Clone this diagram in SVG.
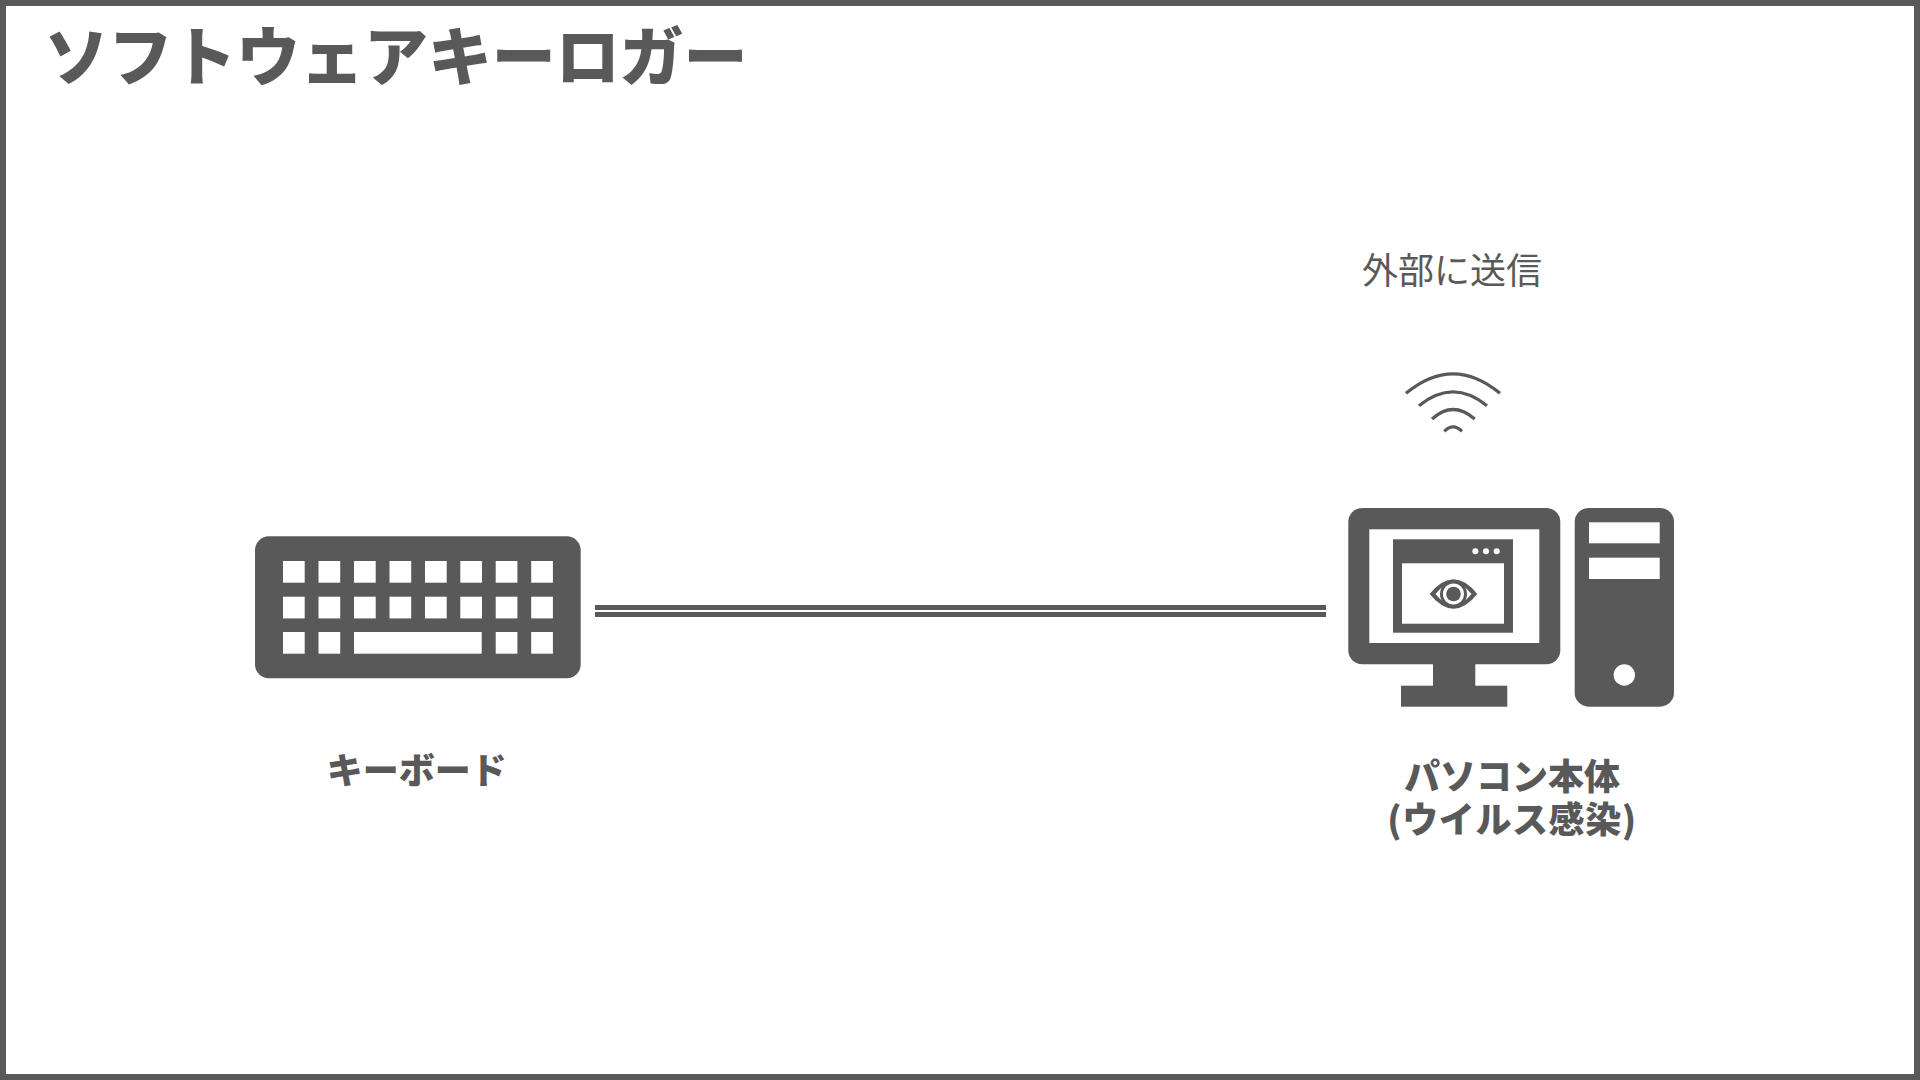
<svg xmlns="http://www.w3.org/2000/svg" width="1920" height="1080" viewBox="0 0 1920 1080">
<style>
text{fill:#595959;font-family:"Noto Sans CJK JP","Noto Sans",sans-serif;text-anchor:middle}
.b{font-weight:900;font-size:36px}
.f{fill:#595959}
.w{fill:#fff}
.wifi{fill:none;stroke:#595959;stroke-width:3.2}
</style>
<rect width="1920" height="1080" fill="#fff"/>
<rect x="3" y="3" width="1914" height="1074" fill="none" stroke="#595959" stroke-width="6"/>
<g id="title"><text x="396" y="80" style="font-size:64px;font-weight:900" textLength="703" lengthAdjust="spacing">ソフトウェアキーロガー</text></g>
<g id="connectors">
<rect class="f" x="595" y="605" width="731" height="5"/>
<rect class="f" x="595" y="612" width="731" height="5"/>
</g>
<g id="keyboard">
<rect class="f" x="255" y="536.3" width="325.7" height="142" rx="14"/>
<g class="w">
<rect x="283" y="561" width="21.7" height="21.7"/><rect x="318.5" y="561" width="21.7" height="21.7"/><rect x="354" y="561" width="21.7" height="21.7"/><rect x="389.5" y="561" width="21.7" height="21.7"/><rect x="425" y="561" width="21.7" height="21.7"/><rect x="460.3" y="561" width="21.7" height="21.7"/><rect x="495.7" y="561" width="21.7" height="21.7"/><rect x="531.2" y="561" width="21.7" height="21.7"/>
<rect x="283" y="596.7" width="21.7" height="21.7"/><rect x="318.5" y="596.7" width="21.7" height="21.7"/><rect x="354" y="596.7" width="21.7" height="21.7"/><rect x="389.5" y="596.7" width="21.7" height="21.7"/><rect x="425" y="596.7" width="21.7" height="21.7"/><rect x="460.3" y="596.7" width="21.7" height="21.7"/><rect x="495.7" y="596.7" width="21.7" height="21.7"/><rect x="531.2" y="596.7" width="21.7" height="21.7"/>
<rect x="283" y="632" width="21.7" height="21.7"/><rect x="318.5" y="632" width="21.7" height="21.7"/><rect x="354" y="632" width="127.7" height="21.7"/><rect x="495.7" y="632" width="21.7" height="21.7"/><rect x="531.2" y="632" width="21.7" height="21.7"/>
</g>
<text class="b" x="416.7" y="784">キーボード</text>
</g>
<g id="computer">
<rect class="f" x="1348.3" y="508" width="212" height="156.3" rx="14"/>
<rect class="w" x="1369.3" y="529.3" width="170" height="113.7"/>
<rect class="f" x="1433" y="660" width="42.3" height="30"/>
<rect class="f" x="1401" y="685.7" width="106.3" height="21"/>
<rect class="f" x="1393" y="539.3" width="120" height="93.4"/>
<rect class="w" x="1402" y="563.3" width="102" height="60.4"/>
<circle class="w" cx="1475.3" cy="551.3" r="3"/><circle class="w" cx="1486" cy="551.3" r="3"/><circle class="w" cx="1496.7" cy="551.3" r="3"/>
<path class="f" d="M1429.7 594Q1453.5 564.6 1477.3 594Q1453.5 623.4 1429.7 594Z"/>
<path class="w" d="M1435.5 594Q1453.5 571.5 1471.5 594Q1453.5 616.5 1435.5 594Z"/>
<circle class="f" cx="1453.5" cy="594" r="13.5"/>
<circle class="w" cx="1453.5" cy="594" r="10.6"/>
<circle class="f" cx="1453.5" cy="594" r="7.3"/>
<rect class="f" x="1574.7" y="508" width="99.3" height="198.7" rx="14"/>
<rect class="w" x="1589" y="522.3" width="70.7" height="21"/>
<rect class="w" x="1589" y="557.7" width="70.7" height="21.3"/>
<circle class="w" cx="1624.3" cy="675" r="10.7"/>
<text class="b" x="1512"><tspan x="1512" y="790">パソコン本体</tspan><tspan x="1512" y="832.5" letter-spacing="0.6">(ウイルス感染)</tspan></text>
</g>
<g id="wifi">
<path class="wifi" d="M1406 393.3Q1453 354.3 1500 393.3"/>
<path class="wifi" d="M1419 405.7Q1453 378 1487 405.7"/>
<path class="wifi" d="M1432 419Q1453 400 1474.7 419"/>
<path class="wifi" d="M1444.3 431.3Q1453 422.5 1462 431.3"/>
<text x="1452" y="284" style="font-size:36px">外部に送信</text>
</g>
</svg>
